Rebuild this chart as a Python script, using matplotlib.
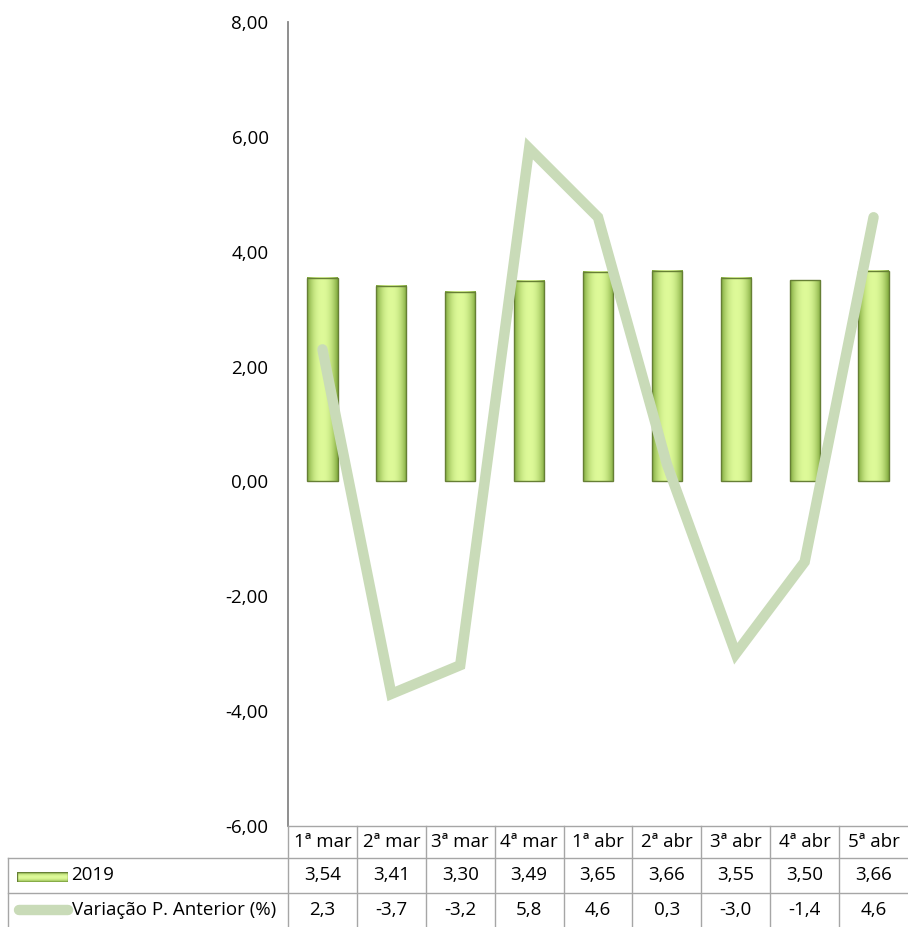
import numpy as np
import matplotlib
matplotlib.use("Agg")
import matplotlib.pyplot as plt
import matplotlib.transforms as mtransforms
from matplotlib.patches import Rectangle
from matplotlib.lines import Line2D

plt.rcParams['font.family'] = ['Open Sans', 'DejaVu Sans']

categories = ["1ª mar", "2ª mar", "3ª mar", "4ª mar", "1ª abr",
              "2ª abr", "3ª abr", "4ª abr", "5ª abr"]
precos_2019 = [3.54, 3.41, 3.30, 3.49, 3.65, 3.66, 3.55, 3.50, 3.66]
variacao = [2.3, -3.7, -3.2, 5.8, 4.6, 0.3, -3.0, -1.4, 4.6]
y_ticks = [-6, -4, -2, 0, 2, 4, 6, 8]

W, H = 908, 927
fig = plt.figure(figsize=(W / 100, H / 100), dpi=100)

# plot area in pixels: left 288, right 908, top 22, bottom 826
ax = fig.add_axes([288 / W, 1 - 826 / H, 620 / W, 804 / H])
ax.set_xlim(-0.5, len(categories) - 0.5)
ax.set_ylim(-6, 8)

# bars with a horizontal light-centre gradient
bar_w = 0.44
g = np.linspace(-1, 1, 64)
shade = 1 - np.abs(g) ** 2.2
light = np.array([0.87, 0.98, 0.60])
dark = np.array([0.50, 0.66, 0.24])
grad = (dark[None, :] + (light - dark)[None, :] * shade[:, None])[None, :, :]
for i, v in enumerate(precos_2019):
    ax.imshow(grad, extent=(i - bar_w / 2, i + bar_w / 2, 0, v),
              aspect='auto', zorder=2, interpolation='bilinear')
    ax.add_patch(Rectangle((i - bar_w / 2, 0), bar_w, v, fill=False,
                           edgecolor='#667f35', linewidth=1.0, zorder=3))

line_color = '#c9dbb8'
ax.plot(range(len(variacao)), variacao, color=line_color, linewidth=7.5,
        solid_capstyle='round', solid_joinstyle='miter', zorder=4)

fs = 13.5
ax.set_xlim(-0.5, len(categories) - 0.5)
ax.set_ylim(-6, 8)
ax.set_yticks(y_ticks)
ax.set_yticklabels([f"{t:.2f}".replace('.', ',') for t in y_ticks])
ax.tick_params(axis='y', length=0, pad=14, labelsize=fs)
ax.set_xticks([])
for s in ['top', 'right', 'bottom']:
    ax.spines[s].set_visible(False)
ax.spines['left'].set_color('#868686')
ax.spines['left'].set_linewidth(1.3)

# data table below the plot
tr = mtransforms.blended_transform_factory(ax.transData, fig.transFigure)
grid_c = '#a6a6a6'


def fy(py):
    return 1 - py / H


row_top, row1, row2, row_bot = 826, 858, 893, 927
n = len(categories)
# horizontal lines
fig.add_artist(Line2D([-0.5, n - 0.5], [fy(row_top)] * 2, transform=tr,
                      color=grid_c, lw=1.0))
for py in (row1, row2):
    fig.add_artist(Line2D([8 / W, 1], [fy(py)] * 2, transform=fig.transFigure,
                          color=grid_c, lw=1.0))
# vertical lines
for k in range(n):
    fig.add_artist(Line2D([k - 0.5] * 2, [fy(row_top), fy(row_bot)], transform=tr,
                          color=grid_c, lw=1.0))
fig.add_artist(Line2D([8 / W] * 2, [fy(row1), fy(row_bot)],
                      transform=fig.transFigure, color=grid_c, lw=1.0))

for i in range(n):
    fig.text(i, fy((row_top + row1) / 2), categories[i], transform=tr,
             ha='center', va='center', fontsize=fs)
    fig.text(i, fy((row1 + row2) / 2), f"{precos_2019[i]:.2f}".replace('.', ','),
             transform=tr, ha='center', va='center', fontsize=fs)
    fig.text(i, fy((row2 + row_bot) / 2), f"{variacao[i]:.1f}".replace('.', ','),
             transform=tr, ha='center', va='center', fontsize=fs)

# legend keys in the table
kax = fig.add_axes([17 / W, fy(882), 51 / W, 10 / H])
kax.imshow(np.transpose(grad, (1, 0, 2)), aspect='auto', extent=(0, 1, 0, 1))
kax.add_patch(Rectangle((0, 0), 1, 1, fill=False, edgecolor='#667f35', lw=1))
kax.set_axis_off()
fig.text(71 / W, fy((row1 + row2) / 2), "2019", ha='left', va='center', fontsize=fs)
fig.add_artist(Line2D([19 / W, 68 / W], [fy(910)] * 2, transform=fig.transFigure,
                      color=line_color, lw=7.5, solid_capstyle='round'))
fig.text(72 / W, fy((row2 + row_bot) / 2), "Variação P. Anterior (%)",
         ha='left', va='center', fontsize=fs)

fig.savefig("out.png", dpi=100)
